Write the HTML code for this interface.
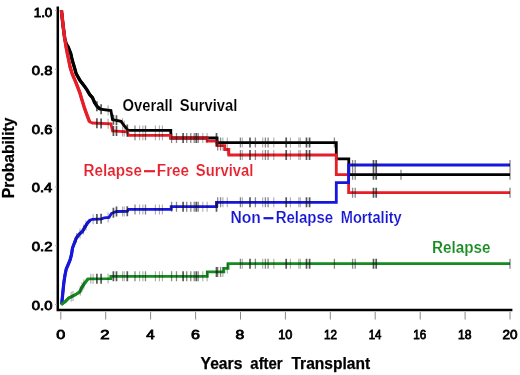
<!DOCTYPE html>
<html><head><meta charset="utf-8"><style>
html,body{margin:0;padding:0;background:#fff;width:520px;height:375px;overflow:hidden}
svg{display:block;filter:blur(0.3px)}
</style></head><body>
<svg width="520" height="375" viewBox="0 0 520 375">
<rect width="520" height="375" fill="#fff"/>
<g fill="none" stroke-linejoin="miter" stroke-linecap="butt">
<path d="M57.8 6.4V310H512.4" stroke="#000" stroke-width="2.5"/>
<path d="M60.8 312V319.5M105.7 312V319.5M150.6 312V319.5M195.6 312V319.5M240.5 312V319.5M285.4 312V319.5M330.3 312V319.5M375.2 312V319.5M420.2 312V319.5M465.1 312V319.5M510.0 312V319.5" stroke="#888" stroke-width="1"/>
<path d="M55 304.5H57M55 245.7H57M55 186.9H57M55 128.1H57M55 69.3H57M55 10.5H57" stroke="#aaa" stroke-width="1"/>
<polyline points="61.4,10.2 63.0,25.0 64.7,38.3 66.2,44.0 68.0,46.7 70.7,53.3 72.2,60.0 74.2,66.7 76.2,73.8 80.0,80.4 84.9,86.8 87.2,90.2 89.5,94.3 92.5,97.7 94.6,102.6 96.9,106.2 100.3,109.2 110.9,110.5 112.5,119.5 121.0,121.3 124.2,125.6 128.0,130.4 170.8,130.4 170.8,138.0 217.0,138.0 217.0,142.6 336.3,142.6 336.3,158.8 348.8,158.8 348.8,174.7 510.0,174.7" stroke="#000" stroke-width="2.8"/>
<polyline points="61.4,10.2 63.0,25.0 64.7,38.3 66.2,44.0 68.0,46.7 70.7,53.3 72.2,60.0 74.2,66.7 76.2,73.8 80.0,80.4 84.9,86.8 87.2,90.2 89.5,94.3 92.5,97.7 94.6,102.6 96.9,106.2 100.3,109.2" stroke="#000" stroke-width="3.3" stroke-linejoin="round"/>
<polyline points="61.4,10.2 63.0,25.0 64.7,38.3 66.0,46.7 67.3,53.3 68.7,60.0 70.0,66.7 72.0,73.3 75.0,80.4 77.6,86.8 80.0,93.2 81.3,97.8 84.6,108.4 87.4,116.2 89.6,121.8 92.4,123.0 110.9,123.8 112.5,130.8 127.4,131.8 128.5,135.3 170.8,135.3 170.8,138.0 207.1,138.0 207.1,141.1 216.9,141.1 216.9,145.6 224.8,145.6 224.8,149.5 228.8,149.5 228.8,155.0 336.3,155.0 336.3,174.6 348.6,174.6 348.6,192.7 510.0,192.7" stroke="#e61e28" stroke-width="2.8"/>
<polyline points="61.4,10.2 63.0,25.0 64.7,38.3 66.0,46.7 67.3,53.3 68.7,60.0 70.0,66.7 72.0,73.3 75.0,80.4 77.6,86.8 80.0,93.2 81.3,97.8 84.6,108.4 87.4,116.2 89.6,121.8" stroke="#e61e28" stroke-width="3.4" stroke-linejoin="round"/>
<path d="M172 138H207" stroke="#b01620" stroke-width="2.8"/>
<polyline points="61.2,304.6 61.8,303.5 62.6,295.0 63.8,283.0 65.0,275.0 66.2,269.2 68.2,264.5 70.2,259.6 71.5,254.5 72.5,248.0 76.2,238.3 79.0,234.5 82.5,231.3 85.0,227.0 87.5,223.0 90.0,220.3 92.5,219.3 101.8,218.8 104.2,217.8 109.0,217.5 111.4,213.5 113.8,212.5 116.7,211.5 127.3,211.3 128.5,209.4 171.2,209.4 171.2,206.7 216.5,206.7 216.5,202.3 336.3,202.3 336.3,182.7 348.6,182.7 348.6,165.0 510.0,165.0" stroke="#1616dc" stroke-width="2.8"/>
<polyline points="61.2,304.6 61.8,303.5 62.6,295.0 63.8,283.0 65.0,275.0 66.2,269.2 68.2,264.5 70.2,259.6 71.5,254.5 72.5,248.0 76.2,238.3 79.0,234.5 82.5,231.3 85.0,227.0 87.5,223.0 90.0,220.3" stroke="#1616dc" stroke-width="3.2" stroke-linejoin="round"/>
<polyline points="61.2,304.6 61.8,304.1 65.2,301.6 68.8,298.0 72.4,296.2 76.0,294.4 79.6,292.0 82.0,287.2 84.4,283.6 88.0,278.8 110.8,278.6 110.8,276.3 207.3,276.3 207.3,271.9 223.8,271.9 223.8,268.4 228.0,268.4 228.0,263.7 510.0,263.7" stroke="#168c20" stroke-width="2.8"/>
<polyline points="61.2,304.6 61.8,304.1 65.2,301.6 68.8,298.0 72.4,296.2 76.0,294.4 79.6,292.0 82.0,287.2 84.4,283.6 88.0,278.8" stroke="#168c20" stroke-width="2.9" stroke-linejoin="round"/>
<path d="M71.2 291.8V301.8M73.0 290.9V300.9M80.2 285.8V295.8M82.0 282.2V292.2M83.8 279.5V289.5M90.8 273.8V283.8M93.1 273.8V283.8M108.1 273.6V283.6M122.5 271.3V281.3M124.2 271.3V281.3M139.6 271.3V281.3M142.9 271.3V281.3M155.4 271.3V281.3M159.4 271.3V281.3M162.4 271.3V281.3M202.8 271.3V281.3M207.1 271.3V281.3M222.9 266.9V276.9M227.3 263.4V273.4M242.3 258.7V268.7M262.7 258.7V268.7M273.8 258.7V268.7M290.4 258.7V268.7M298.8 258.7V268.7M300.3 258.7V268.7M76.5 232.9V242.9M80.0 228.6V238.6M83.5 224.6V234.6M86.0 220.4V230.4M93.1 214.3V224.3M108.1 212.6V222.6M122.5 206.4V216.4M124.2 206.4V216.4M139.6 204.4V214.4M142.9 204.4V214.4M155.4 204.4V214.4M159.4 204.4V214.4M162.4 204.4V214.4M202.8 201.7V211.7M207.1 201.7V211.7M222.9 197.3V207.3M227.3 197.3V207.3M242.3 197.3V207.3M262.7 197.3V207.3M273.8 197.3V207.3M290.4 197.3V207.3M298.8 197.3V207.3M300.3 197.3V207.3M108.1 105.2V115.2M122.5 118.3V128.3M124.2 120.6V130.6M139.6 125.4V135.4M142.9 125.4V135.4M155.4 125.4V135.4M159.4 125.4V135.4M162.4 125.4V135.4M202.8 133.0V143.0M207.1 133.0V143.0M222.9 137.6V147.6M227.3 137.6V147.6M242.3 137.6V147.6M262.7 137.6V147.6M273.8 137.6V147.6M290.4 137.6V147.6M298.8 137.6V147.6M300.3 137.6V147.6M108.1 118.7V128.7M122.5 126.5V136.5M124.2 126.6V136.6M139.6 130.3V140.3M142.9 130.3V140.3M155.4 130.3V140.3M159.4 130.3V140.3M162.4 130.3V140.3M202.8 133.0V143.0M207.1 133.0V143.0M222.9 140.6V150.6M227.3 144.5V154.5M242.3 150.0V160.0M262.7 150.0V160.0M273.8 150.0V160.0M290.4 150.0V160.0M298.8 150.0V160.0M300.3 150.0V160.0" stroke="#111" stroke-width="1.1" opacity="0.35"/><path d="M135.0 271.3V281.3M145.5 271.3V281.3M171.6 271.3V281.3M176.5 271.3V281.3M186.7 271.3V281.3M190.8 271.3V281.3M194.2 271.3V281.3M198.2 271.3V281.3M217.7 266.9V276.9M220.6 266.9V276.9M240.4 258.7V268.7M255.4 258.7V268.7M265.4 258.7V268.7M268.1 258.7V268.7M334.4 258.7V268.7M352.6 258.7V268.7M355.2 258.7V268.7M510.0 258.7V268.7M135.0 204.4V214.4M145.5 204.4V214.4M171.6 201.7V211.7M176.5 201.7V211.7M186.7 201.7V211.7M190.8 201.7V211.7M194.2 201.7V211.7M198.2 201.7V211.7M217.7 197.3V207.3M220.6 197.3V207.3M240.4 197.3V207.3M255.4 197.3V207.3M265.4 197.3V207.3M268.1 197.3V207.3M352.6 160.0V170.0M355.2 160.0V170.0M510.0 160.0V170.0M135.0 125.4V135.4M145.5 125.4V135.4M171.6 133.0V143.0M176.5 133.0V143.0M186.7 133.0V143.0M190.8 133.0V143.0M194.2 133.0V143.0M198.2 133.0V143.0M217.7 137.6V147.6M220.6 137.6V147.6M240.4 137.6V147.6M255.4 137.6V147.6M265.4 137.6V147.6M268.1 137.6V147.6M334.4 137.6V147.6M352.6 169.7V179.7M355.2 169.7V179.7M510.0 169.7V179.7M401.0 169.7V179.7M135.0 130.3V140.3M145.5 130.3V140.3M171.6 133.0V143.0M176.5 133.0V143.0M186.7 133.0V143.0M190.8 133.0V143.0M194.2 133.0V143.0M198.2 133.0V143.0M217.7 140.6V150.6M220.6 140.6V150.6M240.4 150.0V160.0M255.4 150.0V160.0M265.4 150.0V160.0M268.1 150.0V160.0M352.6 187.7V197.7M355.2 187.7V197.7M510.0 187.7V197.7" stroke="#111" stroke-width="1.3" opacity="0.5"/><path d="M96.9 273.7V283.7M101.1 273.7V283.7M113.4 271.3V281.3M116.5 271.3V281.3M127.3 271.3V281.3M183.1 271.3V281.3M196.3 271.3V281.3M216.5 266.9V276.9M250.0 258.7V268.7M286.2 258.7V268.7M306.5 258.7V268.7M309.6 258.7V268.7M373.5 258.7V268.7M376.2 258.7V268.7M96.9 214.1V224.1M101.1 213.8V223.8M113.4 207.7V217.7M116.5 206.6V216.6M127.3 206.3V216.3M183.1 201.7V211.7M196.3 201.7V211.7M216.5 201.7V211.7M250.0 197.3V207.3M286.2 197.3V207.3M306.5 197.3V207.3M309.6 197.3V207.3M373.5 160.0V170.0M376.2 160.0V170.0M96.9 101.2V111.2M101.1 104.3V114.3M113.4 114.7V124.7M116.5 115.3V125.3M127.3 124.5V134.5M183.1 133.0V143.0M196.3 133.0V143.0M216.5 133.0V143.0M250.0 137.6V147.6M286.2 137.6V147.6M306.5 137.6V147.6M309.6 137.6V147.6M373.5 169.7V179.7M376.2 169.7V179.7M96.9 118.2V128.2M101.1 118.4V128.4M113.4 125.9V135.9M116.5 126.1V136.1M127.3 126.8V136.8M183.1 133.0V143.0M196.3 133.0V143.0M216.5 136.1V146.1M250.0 150.0V160.0M286.2 150.0V160.0M306.5 150.0V160.0M309.6 150.0V160.0M373.5 187.7V197.7M376.2 187.7V197.7" stroke="#111" stroke-width="1.7" opacity="0.7"/>
</g>
<g font-family="Liberation Sans, sans-serif" font-weight="bold">
<text x="31.81" y="309.60" font-size="11.973239436619718" font-weight="normal" fill="#000" stroke="#000" stroke-width="0.8" textLength="20.59" lengthAdjust="spacingAndGlyphs">0.0</text><text x="31.80" y="251.03" font-size="11.973239436619718" font-weight="normal" fill="#000" stroke="#000" stroke-width="0.8" textLength="20.75" lengthAdjust="spacingAndGlyphs">0.2</text><text x="31.81" y="192.46" font-size="11.973239436619718" font-weight="normal" fill="#000" stroke="#000" stroke-width="0.8" textLength="20.43" lengthAdjust="spacingAndGlyphs">0.4</text><text x="31.81" y="133.89" font-size="11.973239436619718" font-weight="normal" fill="#000" stroke="#000" stroke-width="0.8" textLength="20.67" lengthAdjust="spacingAndGlyphs">0.6</text><text x="31.81" y="75.32" font-size="11.973239436619718" font-weight="normal" fill="#000" stroke="#000" stroke-width="0.8" textLength="20.59" lengthAdjust="spacingAndGlyphs">0.8</text><text x="33.69" y="16.75" font-size="11.973239436619718" font-weight="normal" fill="#000" stroke="#000" stroke-width="0.8" textLength="18.64" lengthAdjust="spacingAndGlyphs">1.0</text>
<text x="56.15" y="339.20" font-size="12.973239436619718" font-weight="normal" fill="#000" stroke="#000" stroke-width="0.8" textLength="9.02" lengthAdjust="spacingAndGlyphs">0</text><text x="100.36" y="339.20" font-size="12.973239436619718" font-weight="normal" fill="#000" stroke="#000" stroke-width="0.8" textLength="9.29" lengthAdjust="spacingAndGlyphs">2</text><text x="146.32" y="339.20" font-size="12.973239436619718" font-weight="normal" fill="#000" stroke="#000" stroke-width="0.8" textLength="8.45" lengthAdjust="spacingAndGlyphs">4</text><text x="191.00" y="339.20" font-size="12.973239436619718" font-weight="normal" fill="#000" stroke="#000" stroke-width="0.8" textLength="8.95" lengthAdjust="spacingAndGlyphs">6</text><text x="235.49" y="339.20" font-size="12.973239436619718" font-weight="normal" fill="#000" stroke="#000" stroke-width="0.8" textLength="8.76" lengthAdjust="spacingAndGlyphs">8</text><text x="278.24" y="339.20" font-size="12.973239436619718" font-weight="normal" fill="#000" stroke="#000" stroke-width="0.8" textLength="14.20" lengthAdjust="spacingAndGlyphs">10</text><text x="324.12" y="339.20" font-size="12.973239436619718" font-weight="normal" fill="#000" stroke="#000" stroke-width="0.8" textLength="12.99" lengthAdjust="spacingAndGlyphs">12</text><text x="368.74" y="339.20" font-size="12.973239436619718" font-weight="normal" fill="#000" stroke="#000" stroke-width="0.8" textLength="12.73" lengthAdjust="spacingAndGlyphs">14</text><text x="413.32" y="339.20" font-size="12.973239436619718" font-weight="normal" fill="#000" stroke="#000" stroke-width="0.8" textLength="13.03" lengthAdjust="spacingAndGlyphs">16</text><text x="457.99" y="339.20" font-size="12.973239436619718" font-weight="normal" fill="#000" stroke="#000" stroke-width="0.8" textLength="13.53" lengthAdjust="spacingAndGlyphs">18</text><text x="502.42" y="339.20" font-size="12.973239436619718" font-weight="normal" fill="#000" stroke="#000" stroke-width="0.8" textLength="15.05" lengthAdjust="spacingAndGlyphs">20</text>
<text x="200.59" y="369.40" font-size="16" font-weight="bold" fill="#000" stroke="#000" stroke-width="0.25" textLength="41.78" lengthAdjust="spacingAndGlyphs">Years</text><text x="250.35" y="369.40" font-size="16" font-weight="bold" fill="#000" stroke="#000" stroke-width="0.25" textLength="32.34" lengthAdjust="spacingAndGlyphs">after</text><text x="291.44" y="369.40" font-size="16" font-weight="bold" fill="#000" stroke="#000" stroke-width="0.25" textLength="78.64" lengthAdjust="spacingAndGlyphs">Transplant</text><text x="122.61" y="111.10" font-size="16" font-weight="bold" fill="#000" stroke="#fff" stroke-width="0.15" textLength="50.04" lengthAdjust="spacingAndGlyphs">Overall</text><text x="179.86" y="111.10" font-size="16" font-weight="bold" fill="#000" stroke="#fff" stroke-width="0.15" textLength="57.49" lengthAdjust="spacingAndGlyphs">Survival</text><text x="83.61" y="175.50" font-size="16" font-weight="bold" fill="#e6222e" stroke="#fff" stroke-width="0.15" textLength="58.23" lengthAdjust="spacingAndGlyphs">Relapse</text><text x="156.81" y="175.50" font-size="16" font-weight="bold" fill="#e6222e" stroke="#fff" stroke-width="0.15" textLength="32.26" lengthAdjust="spacingAndGlyphs">Free</text><text x="195.86" y="175.50" font-size="16" font-weight="bold" fill="#e6222e" stroke="#fff" stroke-width="0.15" textLength="57.49" lengthAdjust="spacingAndGlyphs">Survival</text><text x="230.48" y="222.80" font-size="16" font-weight="bold" fill="#1818d4" stroke="#fff" stroke-width="0.15" textLength="30.44" lengthAdjust="spacingAndGlyphs">Non</text><text x="275.63" y="222.80" font-size="16" font-weight="bold" fill="#1818d4" stroke="#fff" stroke-width="0.15" textLength="57.51" lengthAdjust="spacingAndGlyphs">Relapse</text><text x="340.75" y="222.80" font-size="16" font-weight="bold" fill="#1818d4" stroke="#fff" stroke-width="0.15" textLength="60.95" lengthAdjust="spacingAndGlyphs">Mortality</text><text x="432.01" y="252.70" font-size="16" font-weight="bold" fill="#1a8c24" stroke="#fff" stroke-width="0.15" textLength="58.53" lengthAdjust="spacingAndGlyphs">Relapse</text>
<text transform="translate(14.1 198.21) rotate(-90)" font-size="16.4" stroke="#000" stroke-width="0.25" textLength="80.63" lengthAdjust="spacingAndGlyphs">Probability</text>
</g>
<rect x="144" y="170.1" width="11" height="2.2" fill="#e6222e"/><rect x="263.5" y="217.1" width="9.9" height="2.2" fill="#1818d4"/>
</svg>
</body></html>
